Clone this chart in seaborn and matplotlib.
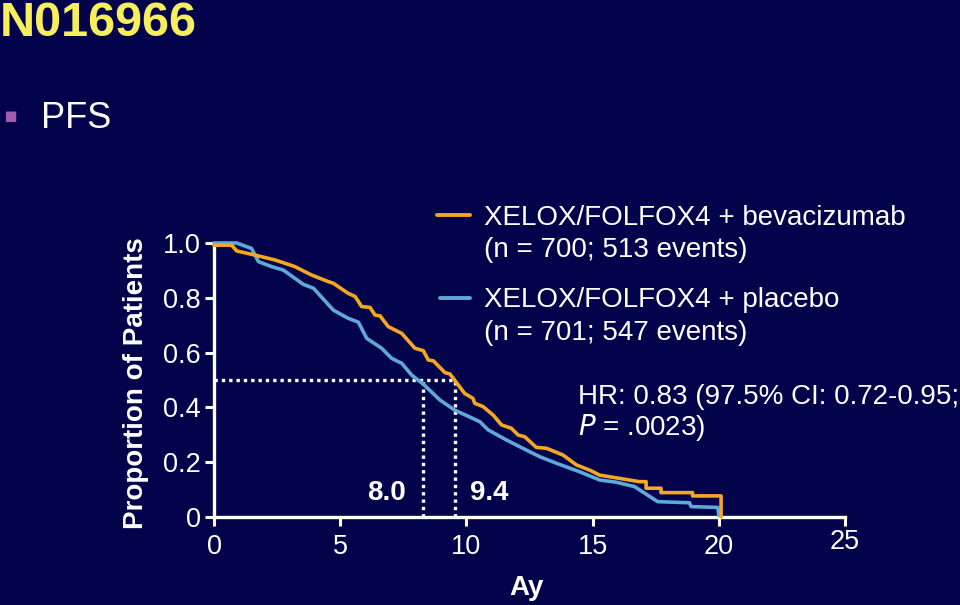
import matplotlib
matplotlib.use("Agg")
import matplotlib.pyplot as plt
import seaborn as sns
import pandas as pd

# colori della slide
sfondo = "#03034b"
arancio = "#f5a623"
azzurro = "#5fa8da"
giallo = "#f7ee5c"
viola = "#a05ab0"

# curve di Kaplan-Meier (mesi, proporzione)
t_bev = [0, 0.7, 0.9, 1.62, 2.42, 3.2, 3.87, 4.53, 4.73, 5.32, 5.59, 5.85, 6.18, 6.38,
         6.58, 6.9, 7.44, 7.96, 8.29, 8.49, 8.69, 9.15, 9.35, 9.93, 10.26, 10.33, 10.66,
         11.06, 11.39, 11.78, 12.05, 12.31, 12.77, 13.17, 13.83, 14.36, 14.94, 15.27,
         16.85, 17.12, 17.12, 17.71, 17.71, 18.96, 18.96, 20.09, 20.09]
s_bev = [0.992, 0.992, 0.971, 0.956, 0.938, 0.914, 0.883, 0.859, 0.853, 0.816, 0.805,
         0.768, 0.765, 0.737, 0.734, 0.695, 0.67, 0.616, 0.607, 0.573, 0.570, 0.527, 0.522,
         0.451, 0.433, 0.415, 0.403, 0.372, 0.336, 0.324, 0.299, 0.293, 0.254, 0.251, 0.226,
         0.19, 0.169, 0.153, 0.129, 0.129, 0.105, 0.105, 0.089, 0.089, 0.077, 0.077, 0.0]

t_plac = [0, 0.9, 1.49, 1.76, 2.28, 2.75, 3.54, 3.94, 4.73, 5.32, 5.72, 6.05, 6.64, 7.04,
          7.44, 7.83, 8.29, 8.95, 9.54, 10.53, 10.86, 11.59, 12.51, 12.91, 13.57, 14.49,
          15.28, 15.93, 16.66, 17.58, 18.84, 18.9, 19.96, 20.0]
s_plac = [1.0, 1.0, 0.98, 0.932, 0.914, 0.901, 0.849, 0.835, 0.755, 0.725, 0.711, 0.652,
          0.616, 0.579, 0.561, 0.518, 0.485, 0.427, 0.39, 0.348, 0.318, 0.281, 0.238, 0.22,
          0.196, 0.165, 0.135, 0.127, 0.111, 0.056, 0.052, 0.038, 0.035, 0.006]

# mediane (posizione disegnata e etichetta)
mediane_x = [8.3, 9.55]
mediane_lab = ["8.0", "9.4"]

x_ticks = [0, 5, 10, 15, 20, 25]
y_ticks = [0, 0.2, 0.4, 0.6, 0.8, 1.0]
y_tick_lab = ["0", "0.2", "0.4", "0.6", "0.8", "1.0"]

leg_bev = ["XELOX/FOLFOX4 + bevacizumab", "(n = 700; 513 events)"]
leg_plac = ["XELOX/FOLFOX4 + placebo", "(n = 701; 547 events)"]

sns.set_theme(style="white")
plt.rcParams["font.family"] = ["Liberation Sans", "DejaVu Sans"]
plt.rcParams["text.color"] = "white"

fig = plt.figure(figsize=(9.6, 6.05), dpi=100, facecolor=sfondo)
ax = fig.add_axes([214 / 960, 88 / 605, 631 / 960, 274 / 605])
ax.set_facecolor(sfondo)

df_bev = pd.DataFrame({"t": t_bev, "s": s_bev})
df_plac = pd.DataFrame({"t": t_plac, "s": s_plac})
sns.lineplot(data=df_plac, x="t", y="s", estimator=None, sort=False, color=azzurro,
             linewidth=2.6, ax=ax, clip_on=False, zorder=3)
sns.lineplot(data=df_bev, x="t", y="s", estimator=None, sort=False, color=arancio,
             linewidth=2.6, ax=ax, clip_on=False, zorder=4)

# linee tratteggiate delle mediane
ax.plot([0, max(mediane_x)], [0.5, 0.5], color="white", linestyle=(0, (1, 1.2)),
        linewidth=2.4, zorder=2)
for mx in mediane_x:
    ax.plot([mx, mx], [0, 0.5], color="white", linestyle=(0, (1, 1.2)), linewidth=2.4,
            zorder=2)
ax.text(mediane_x[0] - 0.7, 0.087, mediane_lab[0], ha="right", va="center",
        fontsize=20, fontweight="bold", color="white")
ax.text(mediane_x[1] + 0.6, 0.087, mediane_lab[1], ha="left", va="center",
        fontsize=20, fontweight="bold", color="white")

ax.set_xlim(0, 25)
ax.set_ylim(0, 1)
ax.set_xticks(x_ticks)
ax.set_xticklabels([str(v) for v in x_ticks])
ax.set_yticks(y_ticks)
ax.set_yticklabels(y_tick_lab)
ax.tick_params(axis="both", colors="white", labelcolor="white", labelsize=19.5,
               length=6.5, width=2.2, direction="out")
ax.tick_params(axis="x", pad=6, bottom=True)
ax.tick_params(axis="y", pad=3, left=True)
for lato in ["top", "right"]:
    ax.spines[lato].set_visible(False)
for lato in ["left", "bottom"]:
    ax.spines[lato].set_color("white")
    ax.spines[lato].set_linewidth(2.4)
ax.grid(False)
# il "25" sta un po' più in alto nella slide
ax.get_xticklabels()[-1].set_y(0.018)

ax.set_xlabel("Ay", fontsize=20, fontweight="bold", color="white")
ax.xaxis.set_label_coords(0.496, -0.21)
ax.set_ylabel("Proportion of Patients", fontsize=20, fontweight="bold", color="white")
ax.yaxis.set_label_coords(-0.103, 0.487)

# legenda disegnata a mano
ax.plot([0.353, 0.406], [1.102, 1.102], color=arancio, linewidth=2.8,
        transform=ax.transAxes, clip_on=False)
ax.plot([0.358, 0.406], [0.799, 0.799], color=azzurro, linewidth=2.8,
        transform=ax.transAxes, clip_on=False)
ax.text(0.428, 1.091, leg_bev[0], transform=ax.transAxes, fontsize=20, va="center")
ax.text(0.428, 0.974, leg_bev[1], transform=ax.transAxes, fontsize=20, va="center")
ax.text(0.428, 0.792, leg_plac[0], transform=ax.transAxes, fontsize=20, va="center")
ax.text(0.428, 0.672, leg_plac[1], transform=ax.transAxes, fontsize=20, va="center")
ax.text(0.577, 0.438, "HR: 0.83 (97.5% CI: 0.72-0.95;", transform=ax.transAxes,
        fontsize=20, va="center")
ax.text(0.577, 0.325, "$\\mathit{P}$ = .0023)", transform=ax.transAxes,
        fontsize=20, va="center")

# titolo della slide
fig.text(0 / 960, 1 - 36 / 605, "N016966", fontsize=35, fontweight="bold",
         color=giallo, ha="left", va="baseline")
fig.text(3 / 960, 1 - 116 / 605, "\u25aa", fontsize=15, color=viola, ha="left",
         va="center", family="DejaVu Sans")
fig.text(41 / 960, 1 - 118 / 605, "PFS", fontsize=26, color="white", ha="left",
         va="center")

plt.savefig("out.png", dpi=100, facecolor=sfondo)
plt.close()
